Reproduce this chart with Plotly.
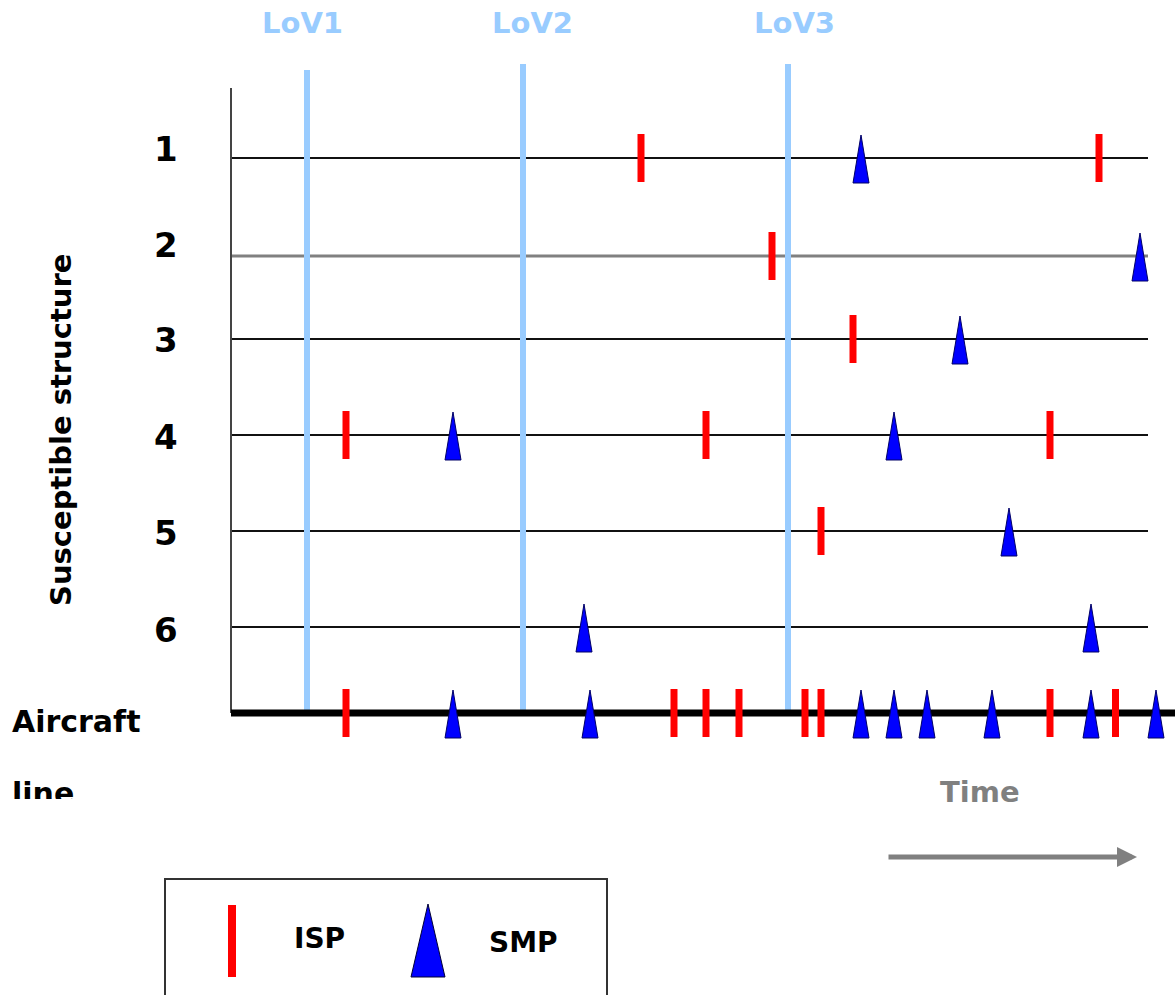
import plotly.graph_objects as go

# ---------------- data (time in arbitrary units) ----------------
structures = ["1", "2", "3", "4", "5", "6"]
aircraft_label = "Aircraft"

isp_s1 = [40.9, 86.7]
smp_s1 = [62.9]
isp_s2 = [54.0]
smp_s2 = [90.8]
isp_s3 = [62.1]
smp_s3 = [72.8]
isp_s4 = [11.4, 47.4, 81.8]
smp_s4 = [22.1, 66.2]
isp_s5 = [58.9]
smp_s5 = [77.7]
isp_s6 = []
smp_s6 = [35.2, 85.9]

isp_aircraft = [11.4, 44.2, 47.4, 50.7, 57.3, 58.9, 81.8, 88.35]
smp_aircraft = [22.1, 35.8, 62.9, 66.2, 69.5, 76.0, 85.9, 92.4]

lov_labels = ["LoV1", "LoV2", "LoV3"]
lov_times = [7.5, 29.1, 55.6]

legend_labels = ["ISP", "SMP"]

# ---------------- layout constants ----------------
W, H = 1175, 995
T0_PX, PX_PER_T = 232.0, 10.0
X_RANGE = [(0 - T0_PX) / PX_PER_T, (W - T0_PX) / PX_PER_T]
ROW_Y = [158, 256, 339, 435, 531, 627]      # structure rows (y axis units, top-down)
AIR_Y = 713                                 # aircraft line
LABEL_Y = [149.5, 245.5, 340, 437, 533, 630]
ROW_END_T = 91.6
AXIS_T = -0.1
LOV_TOP = [70, 64, 64]
LOV_LABEL_PX = [302, 532, 794]
BAR_UP, BAR_DN = 24, 24
TRI_UP, TRI_DN, TRI_HW = 23, 25, 0.8

RED = "#FF0000"
BLUE = "#0000FF"
LOV_COLOR = "#99CCFF"
FONT = "DejaVu Sans"


def px(xp):
    return xp / W


def py(yp):
    return 1 - yp / H


def bar_xy(times, yc):
    xs, ys = [], []
    for t in times:
        xs += [t, t, None]
        ys += [yc - BAR_UP, yc + BAR_DN, None]
    return xs, ys


def tri_xy(times, yc):
    xs, ys = [], []
    for t in times:
        xs += [t - TRI_HW, t + TRI_HW, t, t - TRI_HW, None]
        ys += [yc + TRI_DN, yc + TRI_DN, yc - TRI_UP, yc + TRI_DN, None]
    return xs, ys


fig = go.Figure()

# structure lines
for i, yc in enumerate(ROW_Y):
    gray = structures[i] == "2"
    fig.add_trace(go.Scatter(
        x=[AXIS_T, ROW_END_T], y=[yc, yc], mode="lines",
        line=dict(color="#808080" if gray else "#111111", width=3 if gray else 2),
        hoverinfo="skip"))

# vertical axis line
fig.add_trace(go.Scatter(x=[AXIS_T, AXIS_T], y=[88, AIR_Y], mode="lines",
                         line=dict(color="#444444", width=2), hoverinfo="skip"))

# LoV lines
for t, top in zip(lov_times, LOV_TOP):
    fig.add_trace(go.Scatter(x=[t, t], y=[top, AIR_Y], mode="lines",
                             line=dict(color=LOV_COLOR, width=6), hoverinfo="skip"))

# aircraft line
fig.add_trace(go.Scatter(x=[AXIS_T, X_RANGE[1] + 1], y=[AIR_Y, AIR_Y], mode="lines",
                         line=dict(color="#000000", width=7), hoverinfo="skip"))

isp_rows = [isp_s1, isp_s2, isp_s3, isp_s4, isp_s5, isp_s6, isp_aircraft]
smp_rows = [smp_s1, smp_s2, smp_s3, smp_s4, smp_s5, smp_s6, smp_aircraft]
levels = ROW_Y + [AIR_Y]

for times, yc in zip(isp_rows, levels):
    if not times:
        continue
    xs, ys = bar_xy(times, yc)
    fig.add_trace(go.Scatter(x=xs, y=ys, mode="lines",
                             line=dict(color=RED, width=7), hoverinfo="skip"))

for times, yc in zip(smp_rows, levels):
    if not times:
        continue
    xs, ys = tri_xy(times, yc)
    fig.add_trace(go.Scatter(x=xs, y=ys, mode="lines", fill="toself",
                             fillcolor=BLUE, line=dict(color="#000066", width=1),
                             hoverinfo="skip"))

# clipped "line" word (second line of the Aircraft label)
fig.add_trace(go.Scatter(x=[(12 - T0_PX) / PX_PER_T], y=[796], mode="text",
                         text=["line"], textposition="middle right",
                         textfont=dict(family=FONT, size=30, color="#000000", weight="bold"),
                         hoverinfo="skip", cliponaxis=False))

shapes = []
# white mask that cuts the word "line"
shapes.append(dict(type="rect", xref="paper", yref="paper", layer="above",
                   x0=px(0), x1=px(150), y0=py(830), y1=py(799),
                   fillcolor="white", line=dict(width=0)))
# legend box
shapes.append(dict(type="rect", xref="paper", yref="paper", layer="above",
                   x0=px(165), x1=px(607), y0=py(1010), y1=py(879),
                   fillcolor="white", line=dict(color="#333333", width=2)))
# legend ISP symbol
shapes.append(dict(type="line", xref="paper", yref="paper", layer="above",
                   x0=px(232), x1=px(232), y0=py(905), y1=py(977),
                   line=dict(color=RED, width=8)))
# legend SMP symbol
path = "M {} {} L {} {} L {} {} Z".format(px(411), py(977), px(445), py(977), px(428), py(904))
shapes.append(dict(type="path", xref="paper", yref="paper", layer="above", path=path,
                   fillcolor=BLUE, line=dict(color="#000033", width=1)))

annotations = []
for lab, xp in zip(lov_labels, LOV_LABEL_PX):
    annotations.append(dict(text=lab, x=px(xp), y=py(23.5), xref="paper", yref="paper",
                            showarrow=False, xanchor="center", yanchor="middle",
                            font=dict(family=FONT, size=29, color=LOV_COLOR, weight="bold")))
for lab, yp in zip(structures, LABEL_Y):
    annotations.append(dict(text=lab, x=px(166), y=py(yp), xref="paper", yref="paper",
                            showarrow=False, xanchor="center", yanchor="middle",
                            font=dict(family=FONT, size=34, color="#000000", weight="bold")))
annotations.append(dict(text="Susceptible structure", x=px(61), y=py(430), xref="paper",
                        yref="paper", showarrow=False, textangle=-90,
                        xanchor="center", yanchor="middle",
                        font=dict(family=FONT, size=29, color="#000000", weight="bold")))
annotations.append(dict(text=aircraft_label, x=px(10), y=py(721), xref="paper", yref="paper",
                        showarrow=False, xanchor="left", yanchor="middle",
                        font=dict(family=FONT, size=30, color="#000000", weight="bold")))
annotations.append(dict(text="Time", x=px(980), y=py(791.5), xref="paper", yref="paper",
                        showarrow=False, xanchor="center", yanchor="middle",
                        font=dict(family=FONT, size=29, color="#808080", weight="bold")))
for lab, xp, yp in zip(legend_labels, [319, 523], [938, 942]):
    annotations.append(dict(text=lab, x=px(xp), y=py(yp), xref="paper", yref="paper",
                            showarrow=False, xanchor="center", yanchor="middle",
                            font=dict(family=FONT, size=28, color="#000000", weight="bold")))
# time arrow
annotations.append(dict(text="", x=px(1137), y=py(857), ax=-250, ay=0,
                        xref="paper", yref="paper", axref="pixel", ayref="pixel",
                        showarrow=True, arrowhead=2, arrowsize=0.8, arrowwidth=5,
                        arrowcolor="#808080"))

fig.update_layout(
    width=W, height=H, autosize=False,
    margin=dict(l=0, r=0, t=0, b=0),
    paper_bgcolor="white", plot_bgcolor="white",
    showlegend=False, hovermode=False,
    xaxis=dict(range=X_RANGE, visible=False, fixedrange=True),
    yaxis=dict(range=[H, 0], visible=False, fixedrange=True),
    shapes=shapes, annotations=annotations,
)

fig.write_html("out.html", config={"displayModeBar": False, "staticPlot": True},
               post_script="document.body.style.margin='0';document.body.style.overflow='hidden';")
